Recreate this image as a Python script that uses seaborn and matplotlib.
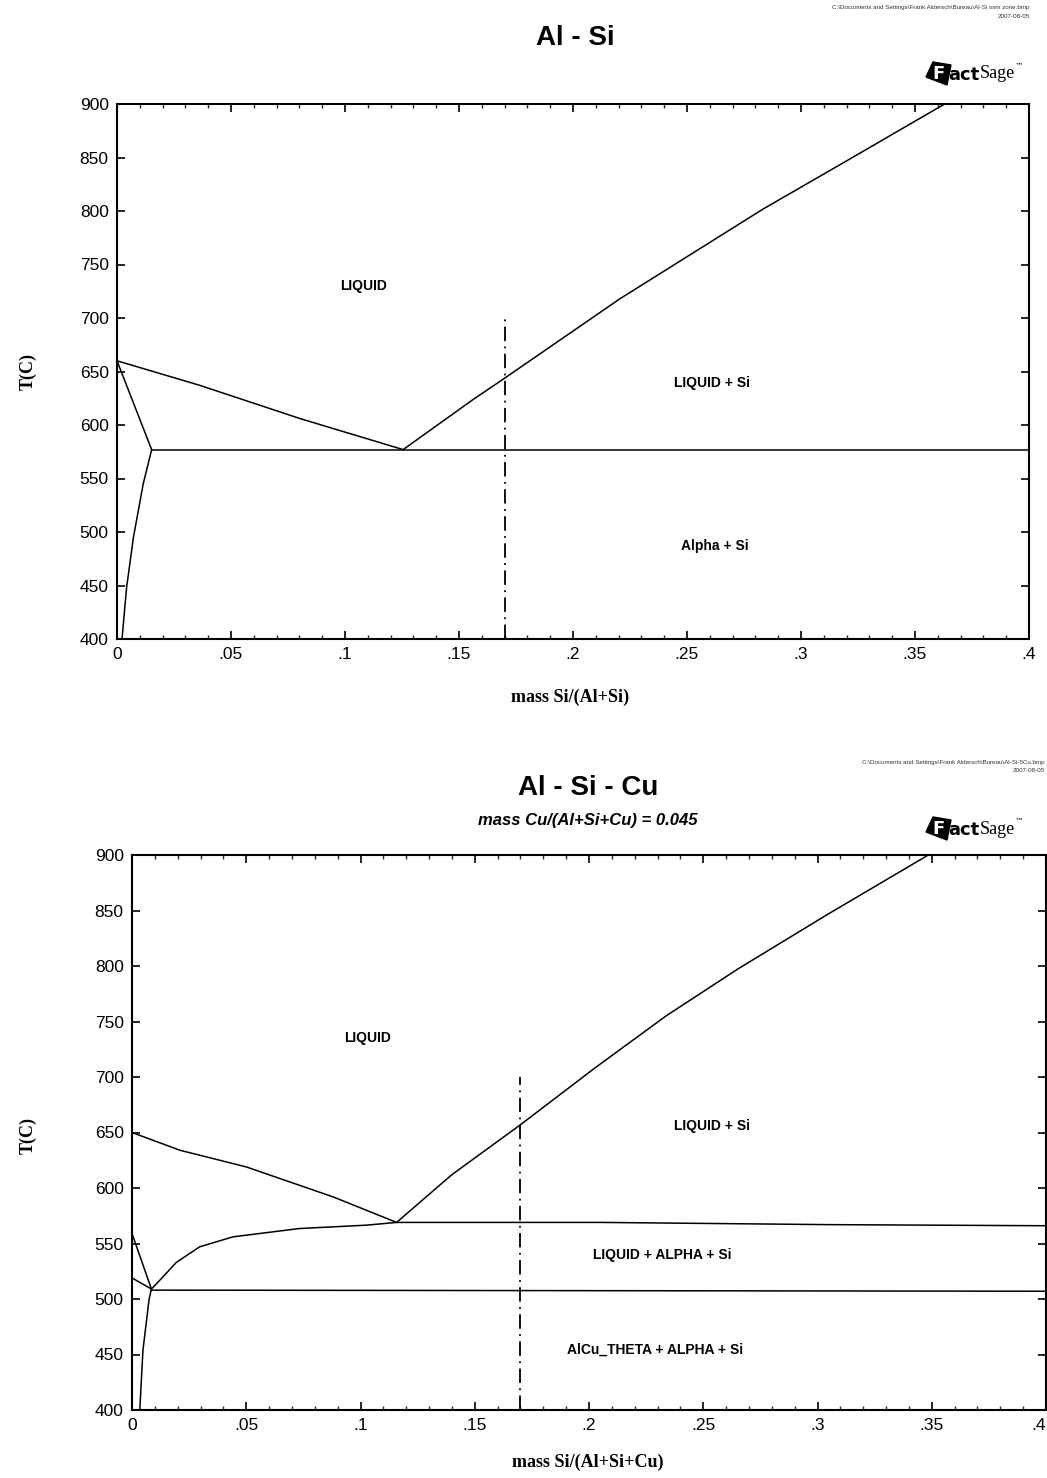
import matplotlib
matplotlib.use("Agg")
import matplotlib.pyplot as plt
import matplotlib.patches as mpatches
import numpy as np
import pandas as pd
import seaborn as sns

# ---------------- data: Al - Si (top) ----------------
top_liq_al_x = [0.0, 0.0364, 0.0803, 0.1255]
top_liq_al_T = [660, 637, 606, 577]
top_sol_x = [0.0, 0.0152]
top_sol_T = [660, 577]
top_solvus_x = [0.0152, 0.0115, 0.0072, 0.0042, 0.0022]
top_solvus_T = [577, 545, 495, 448, 400]
top_eut_x = [0.0152, 0.4]
top_eut_T = [577, 577]
top_liq_si_x = [0.1255, 0.1563, 0.1695, 0.2206, 0.2835, 0.3185, 0.363]
top_liq_si_T = [577, 624, 643, 718, 802, 845, 900]

# ---------------- data: Al - Si - Cu (bottom) ----------------
bot_liq_al_x = [0.0, 0.021, 0.05, 0.088, 0.1158]
bot_liq_al_T = [650, 634, 619, 592, 569]
bot_valley_x = [0.0085, 0.0129, 0.0194, 0.0296, 0.0442, 0.0733, 0.1025, 0.1158, 0.205, 0.305, 0.4]
bot_valley_T = [509, 518.5, 533, 547, 556, 563.5, 566.5, 569, 569, 567, 566]
bot_l1_x = [0.0, 0.0085]
bot_l1_T = [559, 509]
bot_l2_x = [0.0, 0.0085]
bot_l2_T = [519, 509]
bot_solvus_x = [0.0085, 0.0075, 0.0048, 0.0034]
bot_solvus_T = [509, 500, 454, 400]
bot_eut_x = [0.0085, 0.4]
bot_eut_T = [508, 507]
bot_liq_si_x = [0.1158, 0.140, 0.17, 0.2025, 0.2337, 0.2649, 0.304, 0.3485]
bot_liq_si_T = [569, 612, 657, 708, 755, 797, 846, 900]

iso_x = [0.17, 0.17]
iso_T = [400, 700]

x_ticks = [0, 0.05, 0.1, 0.15, 0.2, 0.25, 0.3, 0.35, 0.4]
x_tick_labels = ['0', '.05', '.1', '.15', '.2', '.25', '.3', '.35', '.4']
y_ticks = [400, 450, 500, 550, 600, 650, 700, 750, 800, 850, 900]
y_tick_labels = [str(v) for v in y_ticks]

sns.set_style("ticks")
plt.rcParams['font.family'] = ['Liberation Sans', 'DejaVu Sans']
plt.rcParams['text.color'] = 'black'
plt.rcParams['axes.labelcolor'] = 'black'

W, H = 1047, 1478
fig = plt.figure(figsize=(W / 100, H / 100), dpi=100)


def fx(px):
    return px / W


def fy(py):
    return 1 - py / H


def draw_line(ax, xs, ts, ls='-', lw=1.1):
    df = pd.DataFrame({'x': xs, 'T': ts})
    sns.lineplot(data=df, x='x', y='T', ax=ax, sort=False, estimator=None,
                 color='black', linewidth=lw, linestyle=ls)


def style_axes(ax):
    ax.set_xlim(0, 0.4)
    ax.set_ylim(400, 900)
    ax.set_xticks(x_ticks)
    ax.set_xticklabels(x_tick_labels)
    ax.set_yticks(y_ticks)
    ax.set_yticklabels(y_tick_labels)
    ax.xaxis.set_minor_locator(matplotlib.ticker.MultipleLocator(0.01))
    ax.tick_params(axis='both', which='major', direction='in', length=6, width=1.2,
                   top=True, right=True, labelsize=12.5, pad=6, colors='black')
    ax.tick_params(axis='x', which='minor', direction='in', length=3, width=1.0,
                   top=True, bottom=True)
    ax.tick_params(axis='y', which='minor', left=False, right=False)
    for sp in ax.spines.values():
        sp.set_visible(True)
        sp.set_linewidth(1.5)
        sp.set_color('black')
    ax.set_xlabel('')
    ax.set_ylabel('')
    ax.set_facecolor('white')


dashdot = (0, (8, 3, 1, 3))

# ---------------- top axes ----------------
ax1 = fig.add_axes([fx(117), fy(639), fx(1029) - fx(117), fy(104) - fy(639)])
draw_line(ax1, top_liq_al_x, top_liq_al_T)
draw_line(ax1, top_sol_x, top_sol_T)
draw_line(ax1, top_solvus_x, top_solvus_T)
draw_line(ax1, top_eut_x, top_eut_T)
draw_line(ax1, top_liq_si_x, top_liq_si_T)
draw_line(ax1, iso_x, iso_T, ls=dashdot, lw=1.3)
style_axes(ax1)
lab = dict(fontsize=10, fontweight='bold', ha='center', va='center',
           family='Liberation Sans', color='black')
ax1.text(0.108, 730, 'LIQUID', **lab)
ax1.text(0.261, 639, 'LIQUID + Si', **lab)
ax1.text(0.262, 487, 'Alpha + Si', **lab)

# ---------------- bottom axes ----------------
ax2 = fig.add_axes([fx(132), fy(1410), fx(1046) - fx(132), fy(855) - fy(1410)])
draw_line(ax2, bot_liq_al_x, bot_liq_al_T)
draw_line(ax2, bot_valley_x, bot_valley_T)
draw_line(ax2, bot_l1_x, bot_l1_T)
draw_line(ax2, bot_l2_x, bot_l2_T)
draw_line(ax2, bot_solvus_x, bot_solvus_T)
draw_line(ax2, bot_eut_x, bot_eut_T)
draw_line(ax2, bot_liq_si_x, bot_liq_si_T)
draw_line(ax2, iso_x, iso_T, ls=dashdot, lw=1.3)
style_axes(ax2)
ax2.text(0.103, 735, 'LIQUID', **lab)
ax2.text(0.254, 656, 'LIQUID + Si', **lab)
ax2.text(0.232, 540, 'LIQUID + ALPHA + Si', **lab)
ax2.text(0.229, 454, 'AlCu_THETA + ALPHA + Si', **lab)
# last tick label sits at the right page edge, as in the reference
ax2.get_xticklabels()[-1].set_horizontalalignment('right')

# ---------------- titles & labels ----------------
fig.text(fx(575), fy(38), 'Al - Si', ha='center', va='center', fontsize=20, fontweight='bold')
fig.text(fx(588), fy(788), 'Al - Si - Cu', ha='center', va='center', fontsize=20, fontweight='bold')
fig.text(fx(588), fy(821), 'mass Cu/(Al+Si+Cu) = 0.045', ha='center', va='center',
         fontsize=12, fontweight='bold', style='italic')

serif = dict(family='Liberation Serif', fontweight='bold', fontsize=13)
fig.text(fx(28), fy(372), 'T(C)', rotation=90, ha='center', va='center', **serif)
fig.text(fx(570), fy(697), 'mass Si/(Al+Si)', ha='center', va='center', **serif)
fig.text(fx(28), fy(1135), 'T(C)', rotation=90, ha='center', va='center', **serif)
fig.text(fx(588), fy(1462), 'mass Si/(Al+Si+Cu)', ha='center', va='center', **serif)

small = dict(fontsize=4.5, ha='right', va='center', color='#333333')
fig.text(fx(1030), fy(8), r'C:\Documents and Settings\Frank Aldersch\Bureau\Al-Si ssm zone.bmp', **small)
fig.text(fx(1030), fy(16), '2007-08-05', **small)
fig.text(fx(1045), fy(762), r'C:\Documents and Settings\Frank Aldersch\Bureau\Al-Si-5Cu.bmp', **small)
fig.text(fx(1045), fy(770), '2007-08-05', **small)


def logo(cx, cy):
    # black tilted block carrying a white F
    poly = mpatches.Polygon([[fx(cx - 52), fy(cy + 3)], [fx(cx - 45), fy(cy - 12)],
                             [fx(cx - 27), fy(cy - 9)], [fx(cx - 31), fy(cy + 11)]],
                            closed=True, transform=fig.transFigure, color='black')
    fig.patches.append(poly)
    fig.text(fx(cx - 39), fy(cy), 'F', ha='center', va='center', fontsize=13,
             fontweight='heavy', family='DejaVu Sans', color='white')
    fig.text(fx(cx - 30), fy(cy + 1), 'act', ha='left', va='center', fontsize=13,
             fontweight='heavy', family='DejaVu Sans', color='black')
    fig.text(fx(cx + 2), fy(cy), 'Sage', ha='left', va='center', fontsize=13,
             family='Liberation Serif', color='black')
    fig.text(fx(cx + 37), fy(cy - 8), '™', ha='left', va='center', fontsize=6,
             family='DejaVu Sans', color='black')


logo(978, 74)
logo(978, 829)

fig.savefig('out.png', dpi=100, facecolor='white')
